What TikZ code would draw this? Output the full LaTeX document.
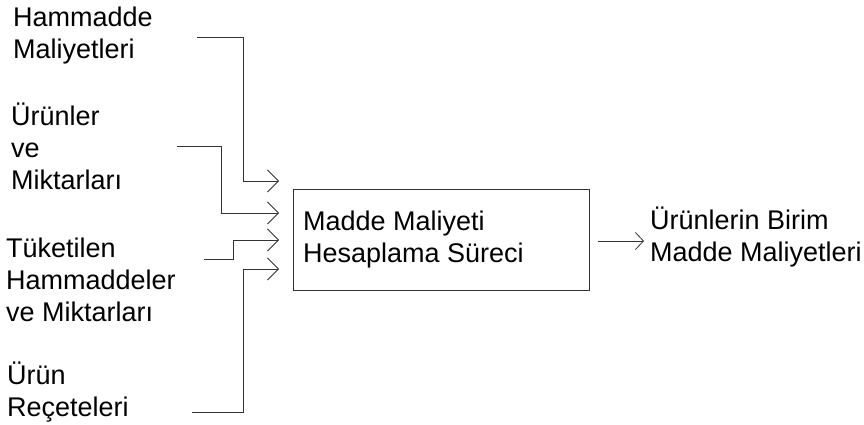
\documentclass[tikz,border=0pt]{standalone}
\usepackage{fontspec}
\setmainfont{Liberation Sans}
\usetikzlibrary{arrows.meta}
\begin{document}
\begin{tikzpicture}[x=1pt,y=-1pt,
  lbl/.style={inner sep=0pt,anchor=base west,align=left,font=\fontsize{27}{32}\selectfont},
  conn/.style={draw=black!80,line width=0.8pt,-{Straight Barb[length=11pt,width=22pt,line width=0.8pt]}},
  outconn/.style={draw=black!80,line width=0.8pt,-{Straight Barb[length=8pt,width=17pt,line width=0.8pt]}},
  procbox/.style={draw=black!80,line width=0.8pt,minimum width=296pt,minimum height=101pt,inner sep=0pt}]
\useasboundingbox (0,0) rectangle (864,425);
% labels (anchored at the baseline of their last line)
\node[lbl] (h1) at (13,59) {Hammadde\\Maliyetleri};
\node[lbl] (h2) at (11,189) {Ürünler\\ve\\Miktarları};
\node[lbl] (h3) at (6,321) {Tüketilen\\Hammaddeler\\ve Miktarları};
\node[lbl] (h4) at (7,416) {Ürün\\Reçeteleri};
% process box
\node[procbox] (box) at (441,239.5) {};
\node[lbl] (boxtxt) at (303,262) {Madde Maliyeti\\Hesaplama Süreci};
% output
\node[lbl] (out) at (650,261) {Ürünlerin Birim\\Madde Maliyetleri};
% free ends
\coordinate (s1) at (197,37);
\coordinate (s2) at (177,146);
\coordinate (s3) at (204,259);
\coordinate (s4) at (192,412);
\coordinate (e1) at (279,181);
\coordinate (e2) at (279,213);
\coordinate (e3) at (279,240);
\coordinate (e4) at (279,269);
\coordinate (o1) at (598,241);
\coordinate (o2) at (644,241);
% connectors
\draw[conn] (s1) -- (243,37) -- (243,181) -- (e1);
\draw[conn] (s2) -- (221,146) -- (221,213) -- (e2);
\draw[conn] (s3) -- (233,259) -- (233,240) -- (e3);
\draw[conn] (s4) -- (243,412) -- (243,269) -- (e4);
\draw[outconn] (o1) -- (o2);
\end{tikzpicture}
\end{document}
